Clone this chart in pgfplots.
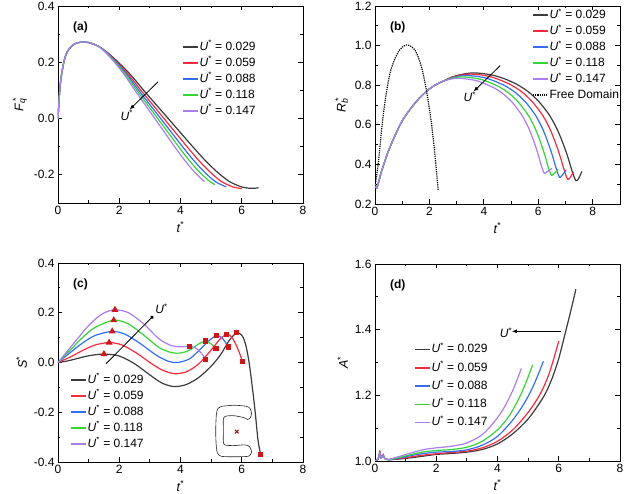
\documentclass[border=0pt]{standalone}
\usepackage{fontspec}
\setmainfont{Liberation Sans}
\usepackage{pgfplots}
\pgfplotsset{compat=1.18}
\usetikzlibrary{arrows.meta}
\definecolor{cblk}{RGB}{60,60,60}
\definecolor{cred}{RGB}{250,40,60}
\definecolor{cblu}{RGB}{50,110,250}
\definecolor{cgrn}{RGB}{50,215,50}
\definecolor{cpur}{RGB}{170,125,240}
\definecolor{mred}{RGB}{210,20,20}
\newcommand{\Us}{\textit{U}\textsuperscript{*}}
\newcommand{\fs}{\fontsize{12}{14}\selectfont}
\pgfplotsset{
  myax/.style={
    scale only axis, anchor=south west,
    tick align=inside,
    minor x tick num=1, minor y tick num=1,
    major tick length=4.5pt, minor tick length=2.5pt,
    axis line style={line width=0.9pt},
    every tick/.style={line width=0.8pt, black},
    tick label style={font=\fs},
    label style={font=\fontsize{12.5}{14}\selectfont},
    /pgf/number format/assume math mode=true,
    y tick label style={/pgf/number format/.cd, fixed, fixed zerofill, precision=1},
    legend style={draw=none, fill=none, font=\fs,
      row sep=2.5pt, inner sep=0pt, anchor=north west,
      nodes={inner sep=1pt, text height=9pt, text depth=2.5pt}},
    legend cell align=left,
    legend image code/.code={\draw[##1, line width=1.4pt] (0pt,0pt) -- (15pt,0pt);},
    every axis plot/.append style={line width=1.2pt},
    xtick={0,2,4,6,8},
    clip=true,
  },
  pl/.style={#1, smooth, no markers},
}
\begin{document}
\begin{tikzpicture}
\useasboundingbox (0,0) rectangle (625pt,494pt);
% ---------------- (a)
\begin{axis}[myax, at={(58pt,291pt)}, width=245pt, height=197pt,
  xmin=0, xmax=8, ymin=-0.3, ymax=0.4, ytick={-0.2,0,0.2,0.4},
  xlabel={\textit{t}\textsuperscript{*}},
  ylabel={\textit{F}\textsubscript{\textit{q}}\llap{\textsuperscript{*}}},
  legend style={at={(0.506,0.827)}}]
\addplot[pl=cblk] coordinates {(0,0) (0.05,0.09) (0.1,0.145) (0.2,0.205) (0.3,0.237) (0.45,0.258) (0.6,0.268) (0.8,0.272) (1.0,0.270) (1.3,0.258) (1.6,0.236) (2.0,0.197) (2.4,0.152) (2.8,0.100) (3.2,0.050) (3.6,0.000) (4.0,-0.050) (4.4,-0.100) (4.8,-0.148) (5.2,-0.190) (5.6,-0.224) (6.0,-0.243) (6.3,-0.248) (6.55,-0.246)};
\addlegendentry{\Us{} = 0.029}
\addplot[pl=cred] coordinates {(0,0) (0.05,0.09) (0.1,0.145) (0.2,0.205) (0.3,0.237) (0.45,0.258) (0.6,0.268) (0.8,0.272) (1.0,0.270) (1.3,0.258) (1.582,0.236) (1.958,0.197) (2.334,0.152) (2.710,0.100) (3.086,0.050) (3.462,0.000) (3.838,-0.050) (4.214,-0.100) (4.589,-0.148) (4.965,-0.190) (5.341,-0.224) (5.717,-0.243) (5.999,-0.249)};
\addlegendentry{\Us{} = 0.059}
\addplot[pl=cblu] coordinates {(0,0) (0.05,0.09) (0.1,0.145) (0.2,0.205) (0.3,0.237) (0.45,0.258) (0.6,0.268) (0.8,0.272) (1.0,0.270) (1.3,0.258) (1.568,0.236) (1.925,0.197) (2.282,0.152) (2.639,0.100) (2.996,0.050) (3.354,0.000) (3.711,-0.050) (4.068,-0.100) (4.425,-0.148) (4.782,-0.190) (5.139,-0.224) (5.496,-0.243)};
\addlegendentry{\Us{} = 0.088}
\addplot[pl=cgrn] coordinates {(0,0) (0.05,0.09) (0.1,0.145) (0.2,0.205) (0.3,0.237) (0.45,0.258) (0.6,0.268) (0.8,0.272) (1.0,0.270) (1.3,0.258) (1.555,0.236) (1.896,0.197) (2.236,0.152) (2.577,0.100) (2.917,0.050) (3.257,0.000) (3.598,-0.050) (3.938,-0.100) (4.279,-0.148) (4.619,-0.190) (4.960,-0.224) (5.130,-0.235)};
\addlegendentry{\Us{} = 0.118}
\addplot[pl=cpur] coordinates {(0,0) (0.05,0.09) (0.1,0.145) (0.2,0.205) (0.3,0.237) (0.45,0.258) (0.6,0.268) (0.8,0.272) (1.0,0.270) (1.3,0.258) (1.543,0.236) (1.867,0.197) (2.191,0.152) (2.515,0.100) (2.838,0.050) (3.162,0.000) (3.486,-0.050) (3.810,-0.100) (4.134,-0.148) (4.458,-0.190) (4.782,-0.224)};
\addlegendentry{\Us{} = 0.147}
\draw[-{Latex[length=5pt,width=4pt]}, line width=0.8pt] (axis cs:3.27,0.131) -- (axis cs:2.34,0.032);
\node[font=\fs] at (axis cs:2.25,0.012) {\Us};
\node[font=\bfseries\fs, anchor=west, inner sep=0pt] at (rel axis cs:0.061,0.893) {(a)};
\end{axis}
% ---------------- (b)
\begin{axis}[myax, at={(375pt,290pt)}, width=245pt, height=198pt,
  xmin=0, xmax=9, ymin=0.2, ymax=1.2, ytick={0.2,0.4,0.6,0.8,1.0,1.2},
  xlabel={\textit{t}\textsuperscript{*}},
  ylabel={\textit{R}\textsubscript{\textit{b}}\llap{\textsuperscript{*}}},
  legend style={at={(0.641,0.989)}}]
\addplot[pl=cblk] coordinates {(0,0.30) (0.06,0.28) (0.15,0.32) (0.25,0.37) (0.5,0.47) (0.75,0.55) (1.0,0.62) (1.3,0.68) (1.6,0.73) (1.9,0.77) (2.2,0.80) (2.5,0.82) (2.8,0.84) (3.2,0.855) (3.6,0.862) (4.0,0.858) (4.4,0.848) (4.8,0.83) (5.2,0.805) (5.6,0.77) (6.0,0.72) (6.4,0.65) (6.7,0.575) (6.95,0.49) (7.1,0.43) (7.22,0.375) (7.3,0.342) (7.38,0.318) (7.45,0.322) (7.52,0.34) (7.6,0.365)};
\addlegendentry{\Us{} = 0.029}
\addplot[pl=cred] coordinates {(0,0.30) (0.06,0.28) (0.15,0.32) (0.25,0.37) (0.5,0.47) (0.75,0.55) (1.0,0.62) (1.3,0.68) (1.6,0.73) (1.9,0.77) (2.2,0.80) (2.5,0.82) (2.8,0.838) (3.15,0.851) (3.5,0.856) (3.879,0.852) (4.258,0.842) (4.637,0.824) (5.015,0.800) (5.394,0.766) (5.773,0.717) (6.152,0.649) (6.436,0.576) (6.673,0.493) (6.815,0.434) (6.929,0.381) (7.004,0.348) (7.08,0.325) (7.15,0.33) (7.22,0.345) (7.3,0.362)};
\addlegendentry{\Us{} = 0.059}
\addplot[pl=cblu] coordinates {(0,0.30) (0.06,0.28) (0.15,0.32) (0.25,0.37) (0.5,0.47) (0.75,0.55) (1.0,0.62) (1.3,0.68) (1.6,0.73) (1.9,0.77) (2.2,0.80) (2.5,0.82) (2.8,0.836) (3.1,0.846) (3.35,0.849) (3.713,0.845) (4.076,0.836) (4.439,0.818) (4.802,0.795) (5.165,0.762) (5.528,0.715) (5.891,0.649) (6.163,0.578) (6.390,0.497) (6.526,0.441) (6.635,0.389) (6.707,0.358) (6.78,0.335) (6.85,0.34) (6.93,0.355) (7.02,0.37)};
\addlegendentry{\Us{} = 0.088}
\addplot[pl=cgrn] coordinates {(0,0.30) (0.06,0.28) (0.15,0.32) (0.25,0.37) (0.5,0.47) (0.75,0.55) (1.0,0.62) (1.3,0.68) (1.6,0.73) (1.9,0.77) (2.2,0.80) (2.5,0.82) (2.8,0.834) (3.0,0.84) (3.2,0.842) (3.547,0.838) (3.894,0.829) (4.241,0.812) (4.588,0.790) (4.935,0.758) (5.282,0.712) (5.629,0.648) (5.890,0.580) (6.107,0.502) (6.237,0.447) (6.341,0.397) (6.410,0.367) (6.48,0.345) (6.55,0.35) (6.64,0.362) (6.73,0.375)};
\addlegendentry{\Us{} = 0.118}
\addplot[pl=cpur] coordinates {(0,0.30) (0.06,0.28) (0.15,0.32) (0.25,0.37) (0.5,0.47) (0.75,0.55) (1.0,0.62) (1.3,0.68) (1.6,0.73) (1.9,0.77) (2.2,0.80) (2.5,0.82) (2.8,0.831) (3.05,0.835) (3.385,0.831) (3.721,0.823) (4.056,0.806) (4.392,0.785) (4.727,0.754) (5.063,0.710) (5.398,0.648) (5.650,0.582) (5.859,0.507) (5.985,0.454) (6.086,0.405) (6.153,0.376) (6.22,0.355) (6.3,0.36) (6.4,0.37) (6.5,0.38)};
\addlegendentry{\Us{} = 0.147}
\addplot[black, densely dotted, line width=1.2pt, smooth, no markers] coordinates {(0,0.29) (0.12,0.406) (0.31,0.658) (0.55,0.86) (0.86,0.969) (1.16,1.003) (1.47,0.977) (1.71,0.89) (1.90,0.765) (2.08,0.60) (2.20,0.45) (2.32,0.27)};
\addlegendentry{Free Domain}
\draw[-{Latex[length=5pt,width=4pt]}, line width=0.8pt] (axis cs:4.6,0.899) -- (axis cs:3.62,0.768);
\node[font=\fs] at (axis cs:3.48,0.742) {\Us};
\node[font=\bfseries\fs, anchor=west, inner sep=0pt] at (rel axis cs:0.061,0.893) {(b)};
\end{axis}
% ---------------- (c)
\begin{axis}[myax, at={(58pt,32pt)}, width=245pt, height=199pt,
  xmin=0, xmax=8, ymin=-0.4, ymax=0.4, ytick={-0.4,-0.2,0,0.2,0.4},
  xlabel={\textit{t}\textsuperscript{*}},
  ylabel={\textit{S}\textsuperscript{*}},
  legend style={at={(0.049,0.447)}}]
\addplot[pl=cblk] coordinates {(0,0) (0.3,0.006) (0.6,0.015) (1.0,0.027) (1.5,0.034) (2.0,0.026) (2.5,-0.005) (3.0,-0.05) (3.4,-0.083) (3.8,-0.097) (4.2,-0.088) (4.6,-0.06) (5.0,-0.015) (5.3,0.03) (5.6,0.09) (5.83,0.119) (5.95,0.115) (6.05,0.1) (6.15,0.06) (6.26,-0.017) (6.42,-0.177) (6.53,-0.311) (6.62,-0.37)};
\addlegendentry{\Us{} = 0.029}
\addplot[pl=cred] coordinates {(0,0) (0.4,0.022) (0.8,0.048) (1.2,0.07) (1.67,0.08) (2.1,0.07) (2.6,0.035) (3.0,0.0) (3.4,-0.03) (3.8,-0.045) (4.2,-0.037) (4.6,-0.005) (5.0,0.05) (5.3,0.095) (5.51,0.113) (5.65,0.105) (5.8,0.075) (5.92,0.04) (6.03,0.003)};
\addlegendentry{\Us{} = 0.059}
\addplot[pl=cblu] coordinates {(0,0) (0.4,0.04) (0.8,0.078) (1.2,0.108) (1.77,0.125) (2.2,0.113) (2.7,0.075) (3.2,0.03) (3.6,0.005) (3.9,0.0) (4.3,0.015) (4.7,0.06) (5.0,0.095) (5.18,0.107) (5.35,0.1) (5.57,0.062)};
\addlegendentry{\Us{} = 0.088}
\addplot[pl=cgrn] coordinates {(0,0) (0.4,0.05) (0.8,0.1) (1.2,0.14) (1.82,0.17) (2.3,0.155) (2.8,0.11) (3.3,0.06) (3.7,0.04) (4.0,0.038) (4.3,0.05) (4.6,0.075) (4.82,0.086) (5.0,0.075) (5.16,0.056)};
\addlegendentry{\Us{} = 0.118}
\addplot[pl=cpur] coordinates {(0,0) (0.3,0.045) (0.6,0.09) (0.9,0.135) (1.2,0.172) (1.5,0.199) (1.86,0.212) (2.3,0.2) (2.8,0.155) (3.3,0.095) (3.7,0.068) (4.0,0.063) (4.29,0.065) (4.5,0.058) (4.7,0.035) (4.82,0.011)};
\addlegendentry{\Us{} = 0.147}
\addplot[only marks, mark=triangle*, mark size=2.8pt, color=mred, forget plot] coordinates {(1.5,0.034) (1.67,0.08) (1.77,0.125) (1.82,0.17) (1.86,0.212)};
\addplot[only marks, mark=square*, mark size=2pt, color=mred, forget plot] coordinates {(5.83,0.119) (6.62,-0.37) (5.51,0.113) (6.03,0.003) (5.18,0.107) (5.57,0.062) (4.82,0.086) (5.16,0.056) (4.29,0.065) (4.82,0.011)};
\addplot[black!85, line width=0.6pt, smooth, tension=0.45, no markers, forget plot] coordinates {(5.35,-0.176) (5.75,-0.172) (6.15,-0.176) (6.27,-0.185) (6.32,-0.204) (6.28,-0.222) (6.19,-0.229) (6.08,-0.222) (5.75,-0.214) (5.47,-0.216) (5.40,-0.228) (5.40,-0.27) (5.40,-0.32) (5.46,-0.332) (5.75,-0.334) (6.08,-0.331) (6.19,-0.333) (6.28,-0.343) (6.32,-0.36) (6.26,-0.374) (6.15,-0.378) (5.75,-0.379) (5.33,-0.377) (5.20,-0.362) (5.16,-0.32) (5.15,-0.27) (5.17,-0.21) (5.22,-0.185) (5.35,-0.176)};
\addplot[only marks, mark=x, mark size=2.5pt, color=mred!80!black, line width=1pt, forget plot] coordinates {(5.835,-0.278)};
\draw[-{Circle[length=3.5pt]}, line width=0.8pt] (axis cs:1.57,-0.005) -- (axis cs:3.11,0.187);
\node[font=\fs] at (axis cs:3.38,0.215) {\Us};
\node[font=\bfseries\fs, anchor=west, inner sep=0pt] at (rel axis cs:0.061,0.893) {(c)};
\end{axis}
% ---------------- (d)
\begin{axis}[myax, at={(375pt,33pt)}, width=245pt, height=197pt,
  xmin=0, xmax=8, ymin=1.0, ymax=1.6, ytick={1.0,1.2,1.4,1.6},
  xlabel={\textit{t}\textsuperscript{*}},
  ylabel={\textit{A}\textsuperscript{*}},
  legend style={at={(0.159,0.601)}, row sep=4.8pt}]
\addplot[pl=cblk] coordinates {(0,1.0) (0.1,1.005) (0.16,1.022) (0.2,1.01) (0.27,1.016) (0.32,1.008) (0.45,1.004) (0.8,1.006) (1.2,1.01) (1.6,1.015) (2.0,1.02) (2.5,1.023) (3.0,1.027) (3.5,1.035) (4.0,1.052) (4.5,1.083) (5.0,1.128) (5.4,1.18) (5.6,1.212) (5.8,1.256) (6.0,1.312) (6.2,1.385) (6.4,1.46) (6.56,1.523)};
\addlegendentry{\Us{} = 0.029}
\addplot[pl=cred] coordinates {(0,1.0) (0.1,1.008) (0.16,1.03) (0.2,1.012) (0.27,1.02) (0.32,1.008) (0.45,1.004) (0.8,1.007) (1.2,1.013) (1.6,1.018) (2.0,1.022) (2.5,1.026) (3.0,1.03) (3.5,1.04) (4.0,1.06) (4.5,1.095) (5.0,1.148) (5.4,1.205) (5.7,1.27) (6.0,1.365)};
\addlegendentry{\Us{} = 0.059}
\addplot[pl=cblu] coordinates {(0,1.0) (0.1,1.006) (0.16,1.025) (0.2,1.01) (0.27,1.018) (0.32,1.007) (0.45,1.004) (0.8,1.009) (1.2,1.017) (1.6,1.023) (2.0,1.027) (2.5,1.029) (3.0,1.034) (3.5,1.048) (4.0,1.075) (4.5,1.125) (4.9,1.18) (5.2,1.235) (5.5,1.304)};
\addlegendentry{\Us{} = 0.088}
\addplot[pl=cgrn] coordinates {(0,1.0) (0.1,1.006) (0.16,1.024) (0.2,1.01) (0.27,1.017) (0.32,1.007) (0.45,1.004) (0.8,1.011) (1.2,1.02) (1.6,1.028) (2.0,1.032) (2.5,1.035) (3.0,1.042) (3.5,1.06) (4.0,1.095) (4.4,1.14) (4.8,1.21) (5.15,1.293)};
\addlegendentry{\Us{} = 0.118}
\addplot[pl=cpur] coordinates {(0,1.0) (0.1,1.006) (0.16,1.024) (0.2,1.01) (0.27,1.017) (0.32,1.007) (0.45,1.005) (0.8,1.014) (1.2,1.025) (1.6,1.035) (2.0,1.04) (2.5,1.045) (3.0,1.055) (3.5,1.08) (3.9,1.12) (4.2,1.16) (4.5,1.215) (4.78,1.282)};
\addlegendentry{\Us{} = 0.147}
\draw[-{Latex[length=5pt,width=4pt]}, line width=0.8pt] (axis cs:6.08,1.395) -- (axis cs:4.47,1.395);
\node[font=\fs] at (axis cs:4.28,1.39) {\Us};
\node[font=\bfseries\fs, anchor=west, inner sep=0pt] at (rel axis cs:0.061,0.893) {(d)};
\end{axis}
\end{tikzpicture}
\end{document}
